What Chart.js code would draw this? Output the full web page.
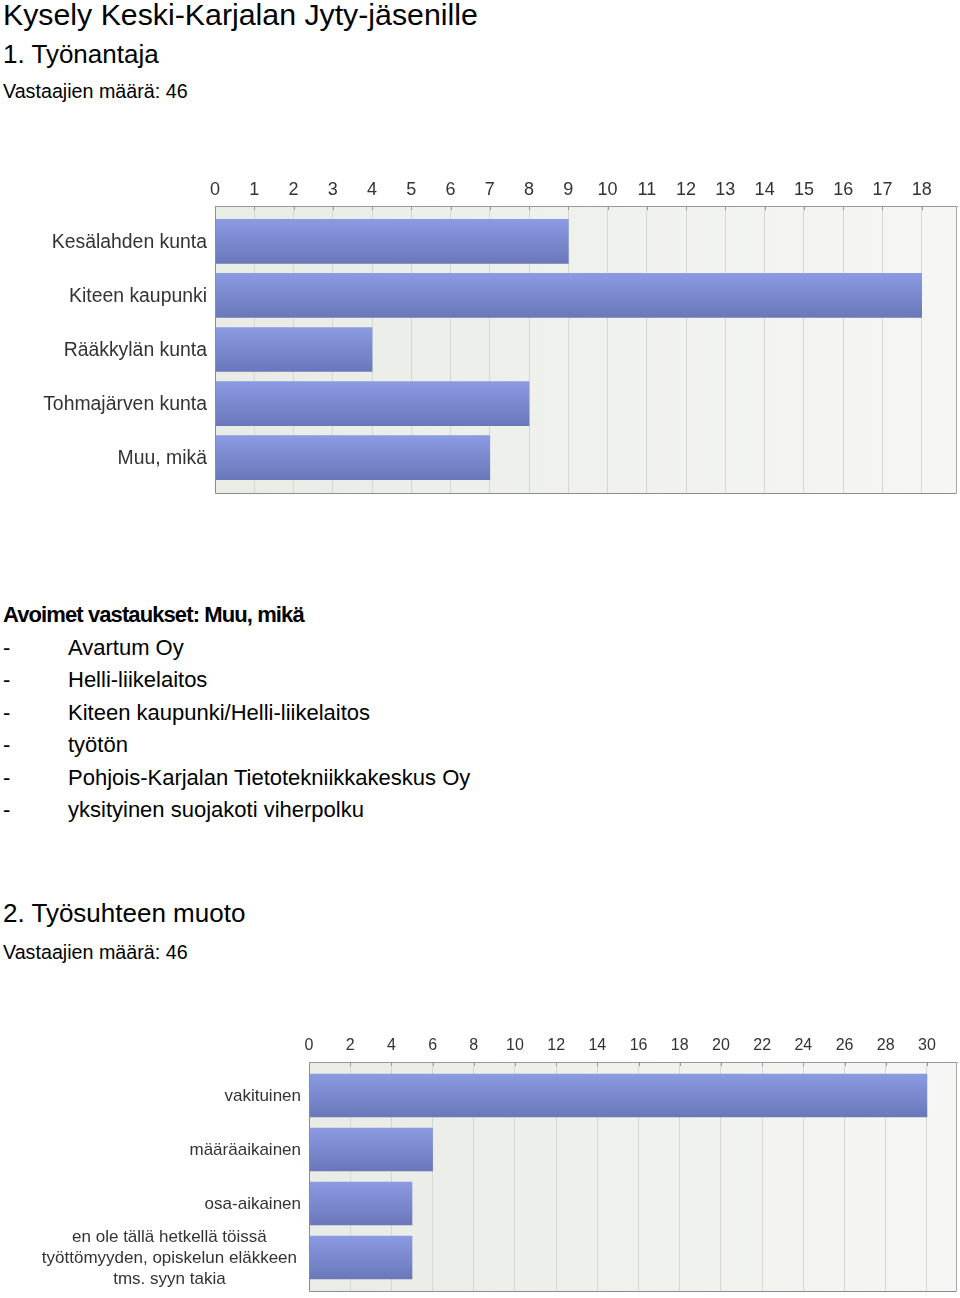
<!DOCTYPE html>
<html>
<head>
<meta charset="utf-8">
<script src="https://cdn.jsdelivr.net/npm/chart.js@4.4.0/dist/chart.umd.min.js"></script>
<style>
  body { margin: 0; width: 960px; height: 1298px; background: #fff; position: relative; overflow: hidden;
         font-family: "Liberation Sans", Arial, sans-serif; color: #000; }
  .t { position: absolute; left: 3px; white-space: nowrap; }
  .h1 { font-size: 30.3px; line-height: 36px; top: -3px; }
  .h2 { font-size: 26px; line-height: 30px; }
  .n { font-size: 19.7px; line-height: 24px; }
  .bold { font-size: 22px; line-height: 26px; font-weight: bold; letter-spacing: -0.9px; }
  .li { font-size: 22px; line-height: 26px; }
  .li span { position: absolute; left: 65px; }
  .chart { position: absolute; left: 0; width: 960px; }
</style>
</head>
<body>
<div class="t h1">Kysely Keski-Karjalan Jyty-jäsenille</div>
<div class="t h2" style="top:39px">1. Työnantaja</div>
<div class="t n" style="top:79px">Vastaajien määrä: 46</div>

<div class="chart" style="top:160px;height:340px"><canvas id="employerChart"></canvas></div>

<div class="t bold" style="top:602px">Avoimet vastaukset: Muu, mikä</div>
<div id="answers"></div>

<div class="t h2" style="top:898px">2. Työsuhteen muoto</div>
<div class="t n" style="top:940px">Vastaajien määrä: 46</div>

<div class="chart" style="top:1020px;height:278px"><canvas id="contractChart"></canvas></div>

<script>
// Question 1 data
const employerLabels = ["Kesälahden kunta", "Kiteen kaupunki", "Rääkkylän kunta", "Tohmajärven kunta", "Muu, mikä"];
const employerCounts = [9, 18, 4, 8, 7];
const employerTicks = [0, 1, 2, 3, 4, 5, 6, 7, 8, 9, 10, 11, 12, 13, 14, 15, 16, 17, 18];

// Open answers
const openAnswers = [
  "Avartum Oy",
  "Helli-liikelaitos",
  "Kiteen kaupunki/Helli-liikelaitos",
  "työtön",
  "Pohjois-Karjalan Tietotekniikkakeskus Oy",
  "yksityinen suojakoti viherpolku"
];

// Question 2 data
const contractLabels = [
  ["vakituinen"],
  ["määräaikainen"],
  ["osa-aikainen"],
  ["en ole tällä hetkellä töissä", "työttömyyden, opiskelun eläkkeen", "tms. syyn takia"]
];
const contractCounts = [30, 6, 5, 5];
const contractTicks = [0, 2, 4, 6, 8, 10, 12, 14, 16, 18, 20, 22, 24, 26, 28, 30];

// Open answers list
const answersBox = document.getElementById("answers");
openAnswers.forEach((txt, i) => {
  const d = document.createElement("div");
  d.className = "t li";
  d.style.top = (635 + i * 32.4) + "px";
  d.innerHTML = "-<span></span>";
  d.querySelector("span").textContent = txt;
  answersBox.appendChild(d);
});

// Plot background, frame, tick marks and category labels
const framePlugin = {
  id: "frame",
  beforeDraw(chart) {
    const a = chart.chartArea, c = chart.ctx;
    if (!a || !isFinite(a.left) || !isFinite(a.right)) return;
    const g = c.createLinearGradient(a.left, 0, a.right, 0);
    g.addColorStop(0, "#e9ebe5");
    g.addColorStop(1, "#f6f7f4");
    c.save();
    c.fillStyle = g;
    c.fillRect(a.left, a.top, a.right - a.left, a.bottom - a.top);
    c.restore();
  },
  afterDraw(chart) {
    const a = chart.chartArea, c = chart.ctx;
    const o = chart.options.plugins.frame;
    c.save();
    c.lineWidth = 1;
    c.strokeStyle = "#8c8c8c";
    c.beginPath();
    c.moveTo(a.left + 0.5, a.top);
    c.lineTo(a.left + 0.5, a.bottom + 0.5);
    c.lineTo(a.right - 0.5, a.bottom + 0.5);
    c.stroke();
    c.strokeStyle = "#a8a8a8";
    c.beginPath();
    c.moveTo(a.right - 0.5, a.top);
    c.lineTo(a.right - 0.5, a.bottom);
    c.stroke();

    // small tick marks under the top axis
    c.strokeStyle = "#999";
    chart.scales.x.ticks.forEach(t => {
      const x = Math.round(chart.scales.x.getPixelForValue(t.value)) + 0.5;
      c.beginPath();
      c.moveTo(x, a.top);
      c.lineTo(x, a.top + 4);
      c.stroke();
    });

    // category labels: single lines right aligned, multi-line blocks centered
    c.font = o.font;
    c.fillStyle = "#333";
    c.textAlign = "center";
    c.textBaseline = "middle";
    o.labels.forEach((lab, i) => {
      const lines = Array.isArray(lab) ? lab : [lab];
      const widest = Math.max(...lines.map(l => c.measureText(l).width));
      const gap = lines.length > 1 ? 12 : 8;
      const cx = a.left - gap - widest / 2;
      const cy = chart.scales.y.getPixelForValue(i);
      lines.forEach((l, j) => {
        c.fillText(l, cx, cy + (j - (lines.length - 1) / 2) * o.lineHeight + 1);
      });
    });
    c.restore();
  }
};

function createChart(canvas, labels, counts, ticks, cfg) {
  return new Chart(canvas, {
    type: "bar",
    data: {
      datasets: [{
        data: counts.map((v, i) => ({ x: v, y: i })),
        barThickness: cfg.barThickness,
        borderWidth: 0,
        backgroundColor: ctx => {
          const ys = ctx.chart.scales.y;
          if (ctx.type !== "data" || !ys) return "#7c8bd3";
          const p = ys.getPixelForValue(ctx.dataIndex);
          if (!isFinite(p)) return "#7c8bd3";
          const h = cfg.barThickness / 2;
          const g = ctx.chart.ctx.createLinearGradient(0, p - h, 0, p + h);
          g.addColorStop(0, "#8b9be2");
          g.addColorStop(1, "#6a77ba");
          return g;
        }
      }]
    },
    options: {
      indexAxis: "y",
      responsive: true,
      maintainAspectRatio: false,
      animation: false,
      layout: { padding: { left: cfg.left, right: 3, top: 0, bottom: 7 } },
      plugins: {
        legend: { display: false },
        tooltip: { enabled: false },
        frame: { labels: labels, font: cfg.labelFont, lineHeight: cfg.lineHeight }
      },
      scales: {
        x: {
          type: "linear",
          position: "top",
          min: 0,
          max: cfg.max,
          afterBuildTicks: s => { s.ticks = ticks.map(v => ({ value: v })); },
          afterFit: s => { s.height = cfg.axisHeight; },
          ticks: {
            autoSkip: false,
            maxRotation: 0,
            padding: cfg.tickPad,
            color: "#333",
            font: { family: "'Liberation Sans', Arial, sans-serif", size: cfg.tickSize }
          },
          grid: { color: "#d5d8d2", drawTicks: false },
          border: { color: "#999" }
        },
        y: {
          type: "linear",
          display: false,
          offset: false,
          reverse: true,
          min: -cfg.offset,
          max: labels.length - 1 + cfg.offset
        }
      }
    },
    plugins: [framePlugin]
  });
}

createChart(document.getElementById("employerChart"), employerLabels, employerCounts, employerTicks, {
  left: 215, max: 18.9, offset: 0.655, barThickness: 44,
  axisHeight: 46, tickPad: 5, tickSize: 18,
  labelFont: "19.4px 'Liberation Sans', Arial, sans-serif", lineHeight: 21
});

createChart(document.getElementById("contractChart"), contractLabels, contractCounts, contractTicks, {
  left: 309, max: 31.46, offset: 0.62, barThickness: 43,
  axisHeight: 42, tickPad: 7, tickSize: 16,
  labelFont: "17px 'Liberation Sans', Arial, sans-serif", lineHeight: 21
});
</script>
</body>
</html>
